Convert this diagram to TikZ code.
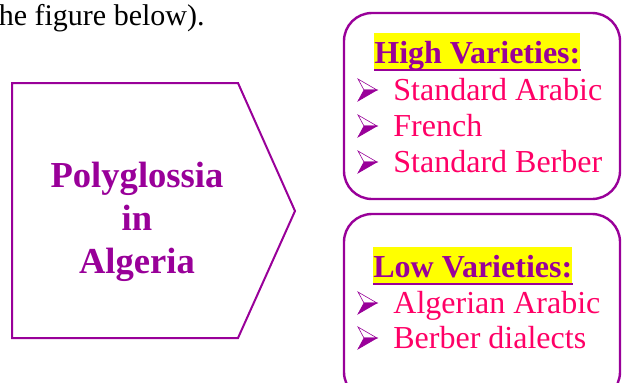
\documentclass[tikz,border=0pt]{standalone}
\usepackage{fontspec}
\setmainfont{Liberation Serif}
\usetikzlibrary{positioning}
\definecolor{plum}{HTML}{990099}
\definecolor{rose}{HTML}{FF0066}
\definecolor{marker}{HTML}{FFFF00}

\begin{document}
\begin{tikzpicture}[
		x=0.5pt, y=-0.5pt,
		every node/.style={inner sep=0pt},
		frame/.style={rectangle, draw=plum, line width=1.2pt, rounded corners=14pt,
				minimum width=138pt, minimum height=93pt},
		head/.style={fill=marker, text=plum, anchor=base west,
				font=\fontsize{16}{19}\selectfont\bfseries,
				text height=15pt, text depth=3.5pt},
		item/.style={text=rose, anchor=base west, font=\fontsize{16}{19}\selectfont},
		uline/.style={plum, line width=1pt},
		arrowbul/.pic={
				\filldraw[plum, fill=white, line width=0.3pt] (0,-11) -- (19,0) -- (6,0) -- cycle;
				\filldraw[plum, line width=0.3pt] (6,0) -- (19,0) -- (0,11) -- cycle;
			},
		]
		\useasboundingbox (0,0) rectangle (622,382);
		\clip (0,0) rectangle (622,382);

		\node[anchor=base east, font=\fontsize{15}{18}\selectfont] (caption) at (205,25) {he figure below).};

		% pentagon
		\draw[plum, line width=1pt] (12,83) -- (238,83) -- (295,211) -- (238,338) -- (12,338) -- cycle;
		\node[text=plum, align=center, font=\fontsize{18.3}{21.5}\selectfont\bfseries]
		(title) at (137,222) {Polyglossia\\in\\Algeria};

		% high varieties
		\node[frame] (highbox) at (482,106) {};
		\node[head] (highhead) at (374,63) {High Varieties:};
		\draw[uline] ([yshift=0.4pt]highhead.south west) -- ([yshift=0.4pt]highhead.south east);
		\foreach \txt/\yy [count=\i] in {Standard Arabic/100, French/136, Standard Berber/172} {
				\node[item] (high\i) at (393,\yy) {\txt};
				\pic at (358,\yy-10) {arrowbul};
			}

		% low varieties
		\node[frame] (lowbox) at (482,307) {};
		\node[head] (lowhead) at (373,277) {Low Varieties:};
		\draw[uline] ([yshift=0.4pt]lowhead.south west) -- ([yshift=0.4pt]lowhead.south east);
		\foreach \txt/\yy [count=\i] in {Algerian Arabic/313, Berber dialects/348} {
				\node[item] (low\i) at (393,\yy) {\txt};
				\pic at (358,\yy-10) {arrowbul};
			}

	\end{tikzpicture}
\end{document}
